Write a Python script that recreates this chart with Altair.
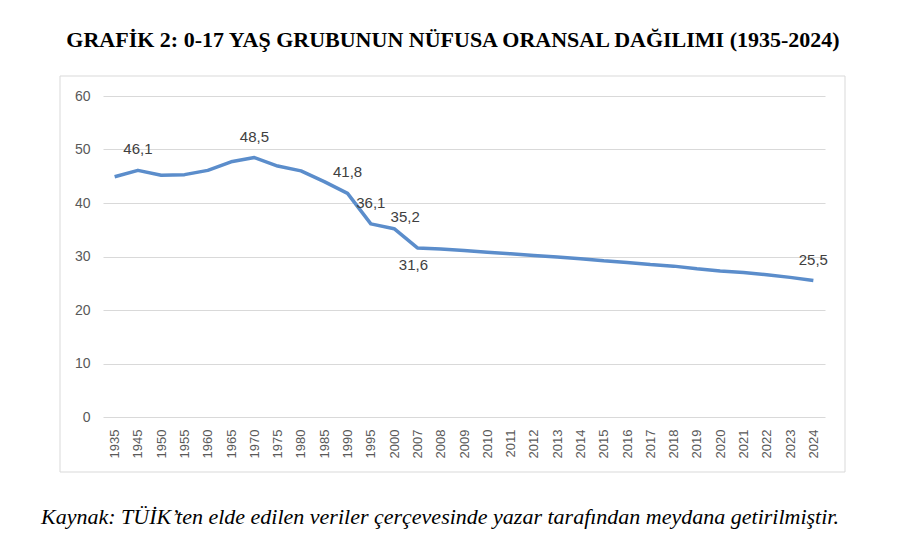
import altair as alt
import pandas as pd

years = ["1935", "1945", "1950", "1955", "1960", "1965", "1970", "1975", "1980",
         "1985", "1990", "1995", "2000", "2007", "2008", "2009", "2010", "2011",
         "2012", "2013", "2014", "2015", "2016", "2017", "2018", "2019", "2020",
         "2021", "2022", "2023", "2024"]
values = [44.9, 46.1, 45.2, 45.3, 46.1, 47.7, 48.5, 46.9, 46.0, 44.0, 41.8,
          36.1, 35.2, 31.6, 31.4, 31.1, 30.8, 30.5, 30.2, 29.9, 29.6, 29.2,
          28.9, 28.5, 28.2, 27.7, 27.3, 27.0, 26.6, 26.1, 25.5]
labels_above = ["1945", "1970", "1990", "1995", "2024"]
labels_above_right = ["2000"]
labels_below = ["2007"]

title_text = "GRAFİK 2: 0-17 YAŞ GRUBUNUN NÜFUSA ORANSAL DAĞILIMI (1935-2024)"
caption_text = "Kaynak: TÜİK’ten elde edilen veriler çerçevesinde yazar tarafından meydana getirilmiştir."

df = pd.DataFrame({"year": years, "value": values})
df["label"] = [f"{v:.1f}".replace(".", ",") for v in values]

FONT = "Liberation Sans"
LINE = "#5B8DCB"

x_enc = alt.X("year:N", sort=None,
              scale=alt.Scale(type="point", padding=0.5),
              axis=alt.Axis(title=None, labelAngle=-90, labelAlign="right",
                            labelBaseline="middle", labelPadding=12,
                            labelFontSize=13, labelColor="#595959",
                            labelFont=FONT, ticks=False, domain=False,
                            grid=False))
y_enc = alt.Y("value:Q",
              scale=alt.Scale(domain=[0, 60], nice=False),
              axis=alt.Axis(title=None, values=[0, 10, 20, 30, 40, 50, 60],
                            labelFontSize=14, labelColor="#595959",
                            labelFont=FONT, labelPadding=13, ticks=False,
                            domain=False, grid=True, gridColor="#D9D9D9",
                            gridWidth=1))

base = alt.Chart(df)

line = base.mark_line(color=LINE, strokeWidth=3.5, strokeJoin="round").encode(
    x=x_enc, y=y_enc)

lab_style = dict(font=FONT, fontSize=15, color="#404040", baseline="middle",
                 align="center")
above = base.transform_filter(
    alt.FieldOneOfPredicate(field="year", oneOf=labels_above)
).mark_text(dy=-21, **lab_style).encode(x=alt.X("year:N", sort=None), y="value:Q", text="label:N")
above_right = base.transform_filter(
    alt.FieldOneOfPredicate(field="year", oneOf=labels_above_right)
).mark_text(dy=-12, dx=11, **lab_style).encode(x=alt.X("year:N", sort=None), y="value:Q", text="label:N")
below = base.transform_filter(
    alt.FieldOneOfPredicate(field="year", oneOf=labels_below)
).mark_text(dy=17, dx=-4, **lab_style).encode(x=alt.X("year:N", sort=None), y="value:Q", text="label:N")

one = alt.Data(values=[{}])
frame = alt.Chart(one).mark_rect(fill=None, stroke="#D9D9D9", strokeWidth=1).encode(
    x=alt.value(-43), x2=alt.value(742), y=alt.value(-20), y2=alt.value(376))

title = alt.Chart(one).mark_text(
    text=title_text, font="Liberation Serif", fontSize=22, fontWeight="bold",
    color="#000000", align="center", baseline="middle"
).encode(x=alt.value(350), y=alt.value(-56))

caption = alt.Chart(one).mark_text(
    text=caption_text, font="Liberation Serif", fontSize=22, fontStyle="italic",
    color="#000000", align="center", baseline="middle"
).encode(x=alt.value(337), y=alt.value(421))

chart = alt.layer(frame, line, above, above_right, below, title, caption).properties(
    width=722, height=321,
    autosize=alt.AutoSizeParams(type="none"),
    padding={"left": 103, "top": 96, "right": 75, "bottom": 134},
    background="white",
).configure_view(stroke=None)

chart.save("out.html", embed_options={"renderer": "svg", "actions": False})
